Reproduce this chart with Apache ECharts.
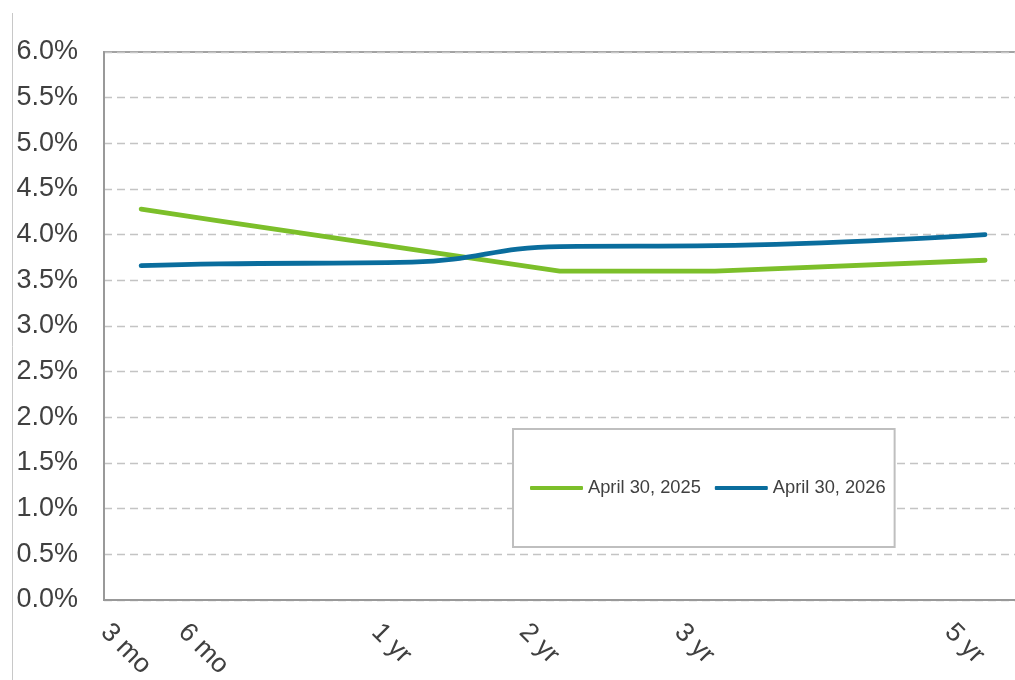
<!DOCTYPE html>
<html>
<head>
<meta charset="utf-8">
<script src="https://cdn.jsdelivr.net/npm/echarts@6/dist/echarts.min.js"></script>
<style>
  html, body { margin: 0; padding: 0; background: #ffffff; }
  #chart { width: 1015px; height: 680px; }
</style>
</head>
<body>
<div id="chart"></div>
<script>
// ---- data ----
const tenors = ['3 mo', '6 mo', '1 yr', '2 yr', '3 yr', '5 yr'];
const tenorPos = [0, 9.2, 32.1, 49.6, 68.0, 100];   // placement of each tenor along the x axis
const seriesNames = ['April 30, 2025', 'April 30, 2026'];
const apr2025 = [4.28, 4.15, 3.84, 3.60, 3.60, 3.72];
const apr2026 = [3.66, 3.68, 3.70, 3.87, 3.88, 4.00];
const yMin = 0, yMax = 6, yStep = 0.5;

// ---- style ----
const FONT = '"Liberation Sans", Arial, sans-serif';
const TEXT = '#404040';
const LABEL_SHIFT = 4.3;   // rotated labels sit a little left of their point
const green = '#7cbf2a';
const blue = '#0a6d9d';

const labelVals = tenorPos.map(p => +(p - LABEL_SHIFT).toFixed(4));

const chart = echarts.init(document.getElementById('chart'), null, { renderer: 'canvas' });
chart.setOption({
  animation: false,
  backgroundColor: '#ffffff',
  graphic: [{
    type: 'line', silent: true,
    shape: { x1: 12.5, y1: 13, x2: 12.5, y2: 680 },
    style: { stroke: '#c8c8c8', lineWidth: 1 }
  }],
  grid: {
    left: 104, right: -3, top: 52, bottom: 80,
    show: true, borderColor: '#a3a3a3', borderWidth: 2,
    outerBoundsMode: 'none', containLabel: false
  },
  legend: {
    left: 513, top: 429,
    orient: 'horizontal',
    padding: [50, 9, 50, 17],
    backgroundColor: '#ffffff',
    borderColor: '#bfbfbf', borderWidth: 2,
    itemWidth: 53, itemHeight: 4, itemGap: 14,
    icon: 'roundRect',
    textStyle: { fontSize: 18.3, color: TEXT, fontFamily: FONT },
    data: seriesNames
  },
  xAxis: {
    type: 'value',
    min: -4.4, max: 103.9,
    axisLine: { show: true, onZero: false, lineStyle: { color: '#999999', width: 2 } },
    axisTick: { show: false },
    splitLine: { show: false },
    axisLabel: {
      customValues: labelVals,
      rotate: -45,
      margin: 28,
      fontSize: 26.5,
      color: TEXT,
      fontFamily: FONT,
      formatter: function (v) {
        const i = labelVals.findIndex(p => Math.abs(p - v) < 1e-6);
        return i >= 0 ? tenors[i] : '';
      }
    }
  },
  yAxis: {
    type: 'value',
    min: yMin, max: yMax, interval: yStep,
    axisLine: { show: true, onZero: false, lineStyle: { color: '#999999', width: 2 } },
    axisTick: { show: false },
    splitLine: { show: true, lineStyle: { color: '#c4c4c4', type: [8, 5], width: 1.3 } },
    axisLabel: {
      margin: 26,
      fontSize: 27,
      padding: [10, 0, 0, 0],
      color: TEXT,
      fontFamily: FONT,
      formatter: v => v.toFixed(1) + '%'
    }
  },
  series: [
    {
      name: seriesNames[0], type: 'line', symbol: 'none',
      data: tenorPos.map((p, i) => [p, apr2025[i]]),
      itemStyle: { color: green },
      lineStyle: { color: green, width: 4.8, cap: 'round', join: 'round' }
    },
    {
      name: seriesNames[1], type: 'line', symbol: 'none', smooth: 0.45,
      data: tenorPos.map((p, i) => [p, apr2026[i]]),
      itemStyle: { color: blue },
      lineStyle: { color: blue, width: 4.8, cap: 'round', join: 'round' }
    }
  ]
});
</script>
</body>
</html>
